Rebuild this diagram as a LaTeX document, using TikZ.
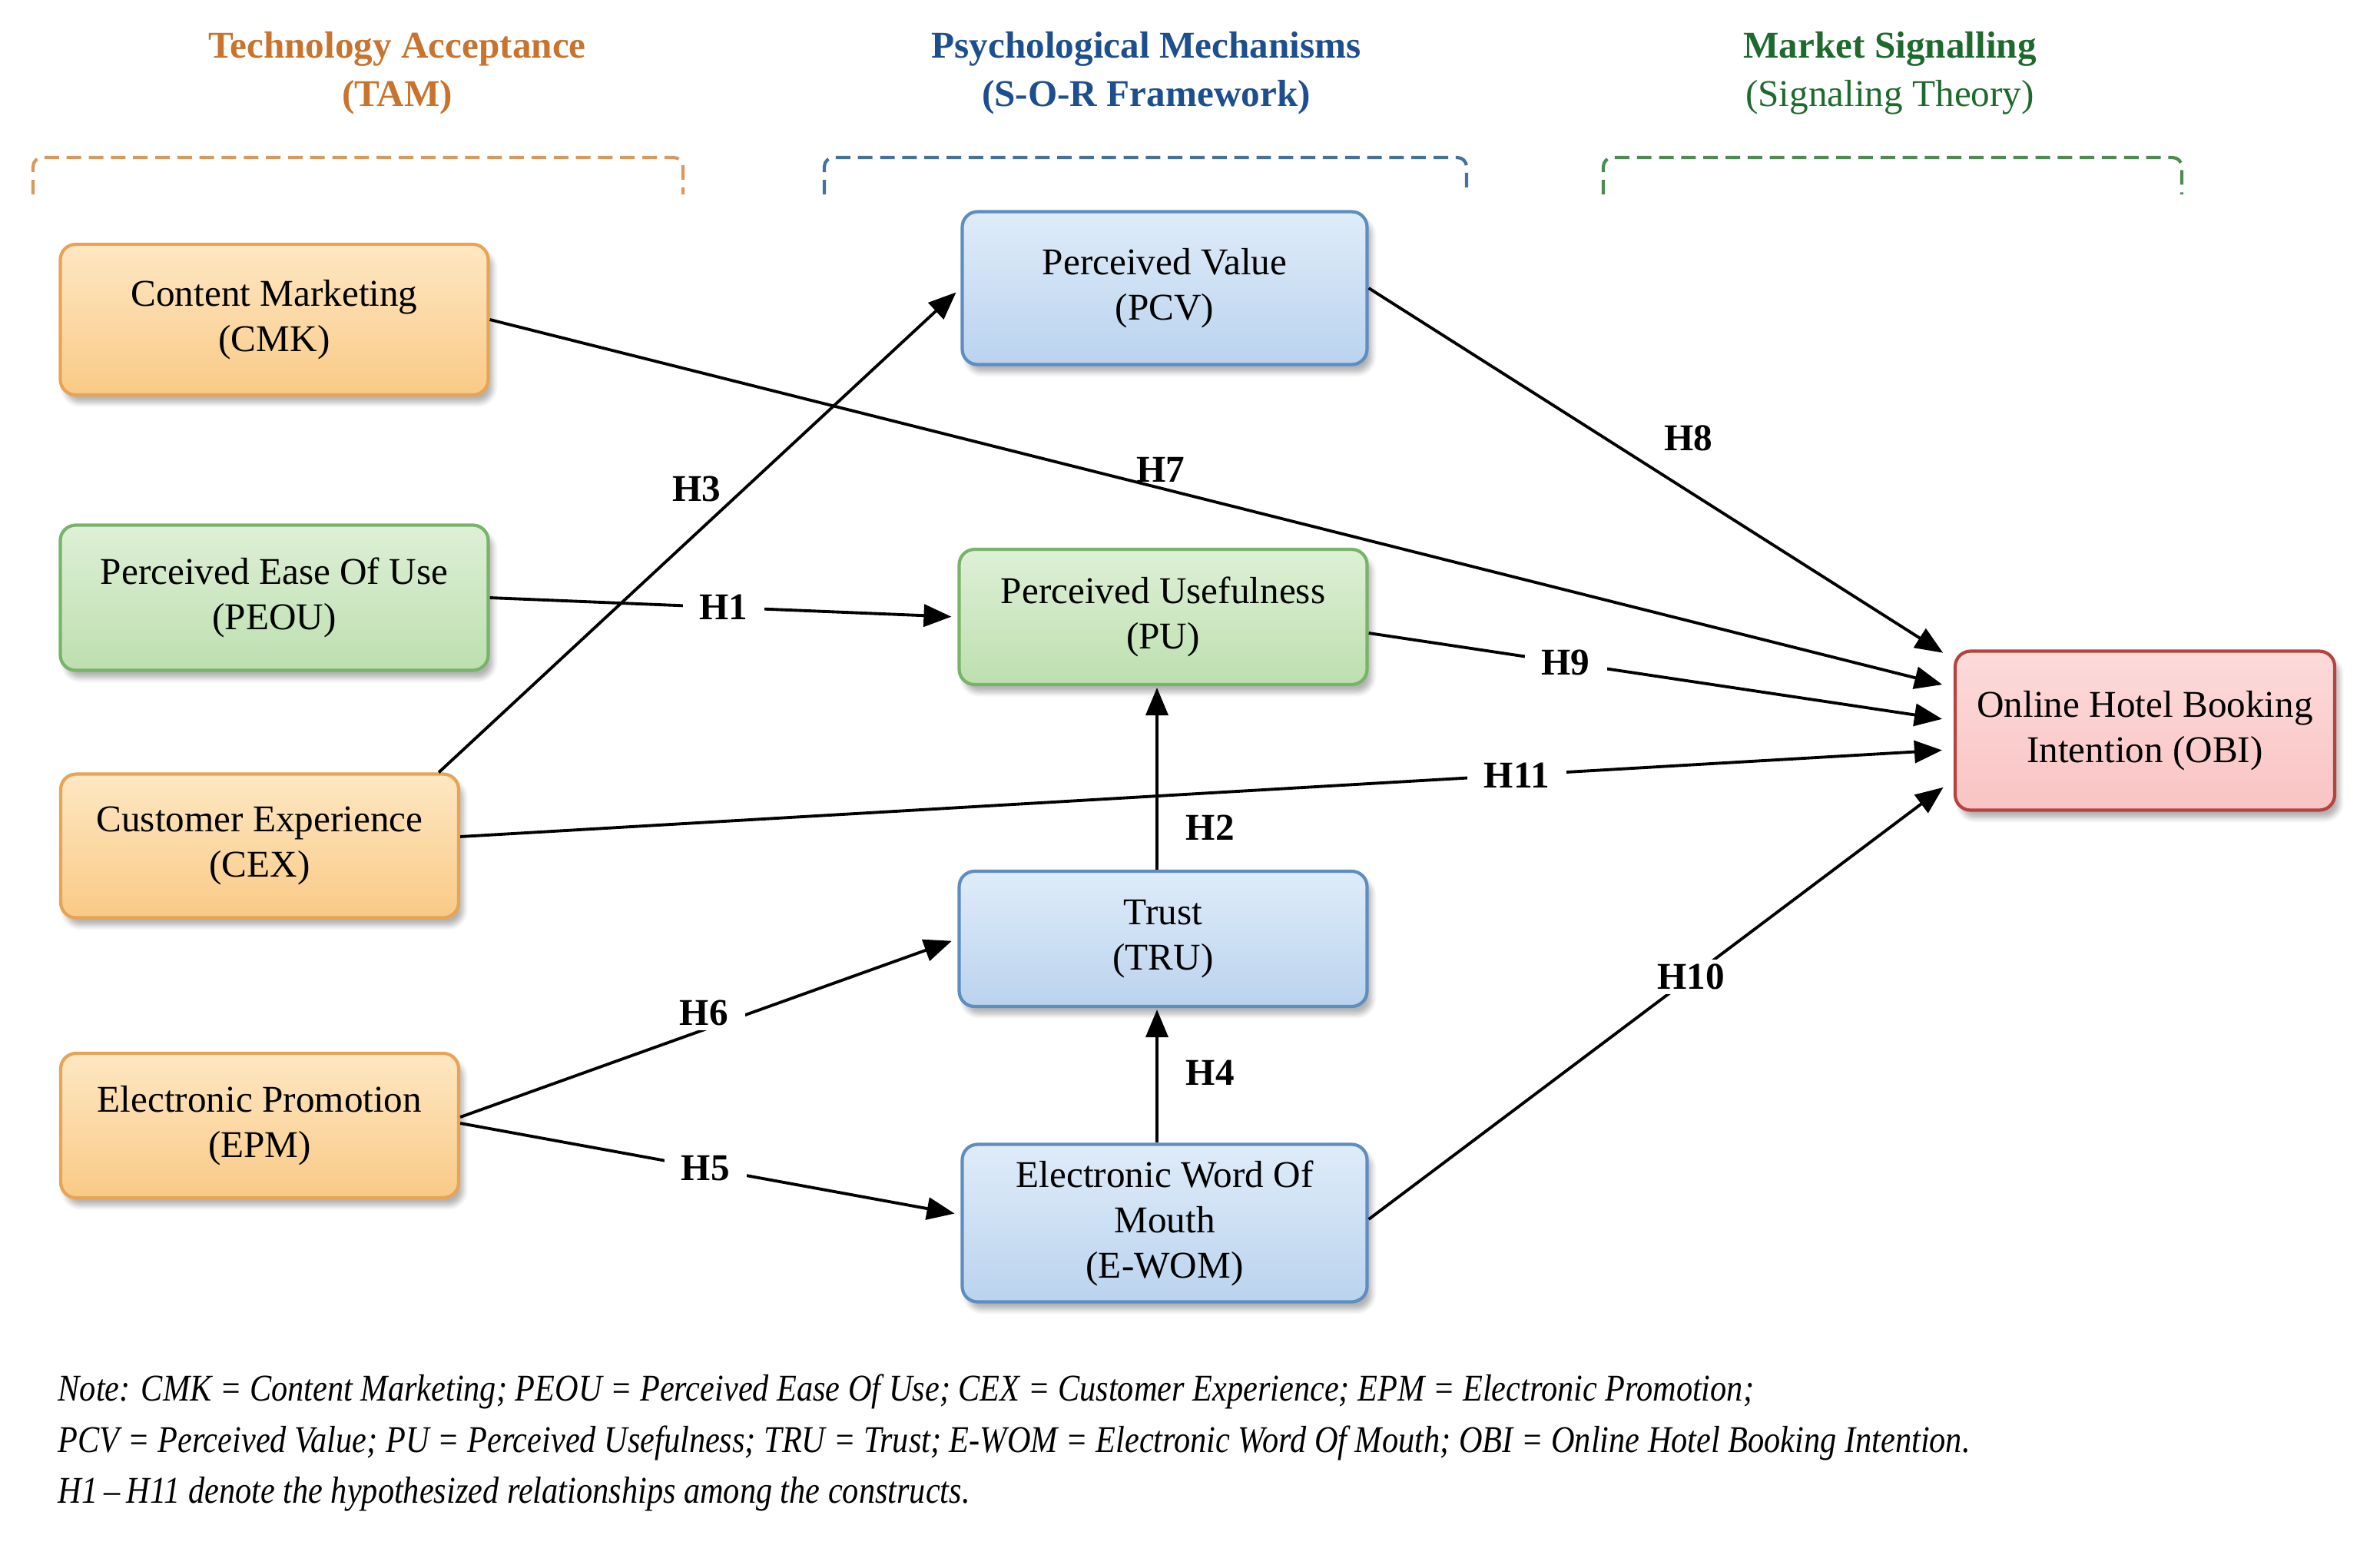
\documentclass[tikz,border=0pt]{standalone}
\usepackage{fontspec}
\setmainfont{Liberation Serif}
\newfontfamily\notefont{Liberation Serif}[FakeStretch=0.86]
\usepackage{tikz}
\usetikzlibrary{arrows.meta,calc,shadows.blur}
\definecolor{tamtext}{HTML}{C8742F}
\definecolor{sortext}{HTML}{1D4F8E}
\definecolor{sigtext}{HTML}{1E6A2E}
\definecolor{tamdash}{HTML}{D89A5C}
\definecolor{sordash}{HTML}{44719E}
\definecolor{sigdash}{HTML}{4C8B52}
\definecolor{orangetop}{HTML}{FEE7C3}
\definecolor{orangebot}{HTML}{F9CA86}
\definecolor{orangeedge}{HTML}{E8A455}
\definecolor{greentop}{HTML}{DEF0D6}
\definecolor{greenbot}{HTML}{BDDFAF}
\definecolor{greenedge}{HTML}{78B36A}
\definecolor{bluetop}{HTML}{DFECF9}
\definecolor{bluebot}{HTML}{BAD3EE}
\definecolor{blueedge}{HTML}{5E8DC2}
\definecolor{redtop}{HTML}{FDDADA}
\definecolor{redbot}{HTML}{F9C4C4}
\definecolor{rededge}{HTML}{B5443F}

\begin{document}
\begin{tikzpicture}[
  font=\fontsize{14}{16.8}\selectfont,
  construct/.style={draw, rounded corners=0.2cm, line width=1.2pt, align=center, inner sep=0pt,
    blur shadow={shadow xshift=0.06cm, shadow yshift=-0.1cm, shadow blur steps=6, shadow opacity=30}},
  orangebox/.style={construct, draw=orangeedge, top color=orangetop, bottom color=orangebot},
  greenbox/.style={construct, draw=greenedge, top color=greentop, bottom color=greenbot},
  bluebox/.style={construct, draw=blueedge, top color=bluetop, bottom color=bluebot},
  redbox/.style={construct, draw=rededge, top color=redtop, bottom color=redbot},
  hypo/.style={-{Triangle[length=0.36cm,width=0.29cm]}, line width=1.1pt, shorten >=0.08cm},
  hlabel/.style={font=\fontsize{14}{16.8}\selectfont\bfseries, inner sep=0.06cm},
  hgap/.style={hlabel, fill=white, inner xsep=0.22cm},
  heading/.style={align=center, font=\fontsize{14}{18}\selectfont\bfseries},
  bracket/.style={dashed, dash pattern=on 5.4pt off 2.8pt, line width=1.2pt, rounded corners=0.12cm}
]
\useasboundingbox (0,0) rectangle (30.98,-20.23);

% theory headings
\node[heading, text=tamtext] (tam) at (5.17,-0.95) {Technology Acceptance\\(TAM)};
\node[heading, text=sortext] (sor) at (14.92,-0.95) {Psychological Mechanisms\\(S-O-R Framework)};
\node[heading, text=sigtext] (sig) at (24.60,-0.95) {Market Signalling\\\mdseries(Signaling Theory)};
\draw[bracket, tamdash] (0.43,-2.53) -- (0.43,-2.05) -- (8.89,-2.05) -- (8.89,-2.53);
\draw[bracket, sordash] (10.73,-2.53) -- (10.73,-2.05) -- (19.09,-2.05) -- (19.09,-2.53);
\draw[bracket, sigdash] (20.87,-2.53) -- (20.87,-2.05) -- (28.40,-2.05) -- (28.40,-2.53);

% constructs
\node[orangebox, minimum width=5.57cm, minimum height=1.96cm] (cmk) at (3.57,-4.16) {Content Marketing\\(CMK)};
\node[greenbox, minimum width=5.57cm, minimum height=1.89cm] (peou) at (3.57,-7.78) {Perceived Ease Of Use\\(PEOU)};
\node[orangebox, minimum width=5.18cm, minimum height=1.87cm] (cex) at (3.38,-11.01) {Customer Experience\\(CEX)};
\node[orangebox, minimum width=5.18cm, minimum height=1.88cm] (epm) at (3.38,-14.65) {Electronic Promotion\\(EPM)};
\node[bluebox, minimum width=5.27cm, minimum height=1.99cm] (pcv) at (15.16,-3.75) {Perceived Value\\(PCV)};
\node[greenbox, minimum width=5.31cm, minimum height=1.76cm] (pu) at (15.14,-8.03) {Perceived Usefulness\\(PU)};
\node[bluebox, minimum width=5.31cm, minimum height=1.76cm] (tru) at (15.14,-12.22) {Trust\\(TRU)};
\node[bluebox, minimum width=5.27cm, minimum height=2.05cm] (ewom) at (15.16,-15.92) {Electronic Word Of\\Mouth\\(E-WOM)};
\node[redbox, minimum width=4.94cm, minimum height=2.07cm] (obi) at (27.92,-9.51) {Online Hotel Booking\\Intention (OBI)};

% entry points on OBI
\coordinate (obi8) at ($(obi.west)+(-0.07,0.97)$);
\coordinate (obi7) at ($(obi.west)+(-0.07,0.58)$);
\coordinate (obi9) at ($(obi.west)+(-0.07,0.14)$);
\coordinate (obi11) at ($(obi.west)+(-0.07,-0.25)$);
\coordinate (obi10) at ($(obi.west)+(-0.07,-0.69)$);

% hypotheses
\draw[hypo] (cmk.east) -- (obi7) node[pos=0.46, above, hlabel] {H7};
\draw[hypo] ($(cex.north east)+(-0.28,0)$) -- (pcv.west) node[pos=0.585, left=0.22cm, hlabel] {H3};
\draw[hypo] (peou.east) -- (pu.west) node[pos=0.5, hgap] {H1};
\draw[hypo] ($(cex.east)+(0,0.12)$) -- (obi11) node[pos=0.71, hgap] {H11};
\draw[hypo] ($(epm.east)+(0,0.11)$) -- (tru.west) node[pos=0.49, hgap, yshift=0.22cm] {H6};
\draw[hypo] ($(epm.east)+(0,0.03)$) -- ($(ewom.west)+(0,0.11)$) node[pos=0.49, hgap] {H5};
\draw[hypo] (pcv.east) -- (obi8) node[pos=0.5, above right, hlabel, yshift=0.2cm] {H8};
\draw[hypo] ($(pu.east)+(0,-0.21)$) -- (obi9) node[pos=0.34, hgap] {H9};
\draw[hypo] ($(ewom.east)+(0,0.05)$) -- (obi10) node[pos=0.556, hgap] {H10};
\draw[hypo, shorten >=0.02cm] ($(tru.north)+(-0.08,0)$) -- ($(pu.south)+(-0.08,0)$) node[pos=0.23, right=0.3cm, hlabel] {H2};
\draw[hypo, shorten >=0.02cm] ($(ewom.north)+(-0.1,0)$) -- ($(tru.south)+(-0.08,0)$) node[pos=0.52, right=0.3cm, hlabel] {H4};

% note
\node[anchor=north west, align=left, inner sep=0pt, font=\notefont\fontsize{14}{19}\selectfont\itshape] (note) at (0.75,-17.88)
  {Note: CMK = Content Marketing; PEOU = Perceived Ease Of Use; CEX = Customer Experience; EPM = Electronic Promotion;\\
   PCV = Perceived Value; PU = Perceived Usefulness; TRU = Trust; E-WOM = Electronic Word Of Mouth; OBI = Online Hotel Booking Intention.\\
   H1\,–\,H11 denote the hypothesized relationships among the constructs.};
\end{tikzpicture}
\end{document}
